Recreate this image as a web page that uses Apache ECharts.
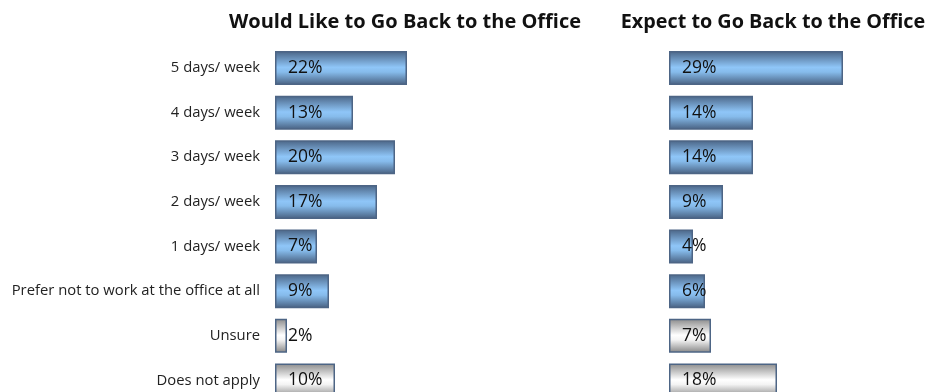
<!DOCTYPE html>
<html>
<head>
<meta charset="utf-8">
<script src="https://cdn.jsdelivr.net/npm/echarts@6/dist/echarts.min.js"></script>
<style>
  html, body { margin: 0; padding: 0; background: #ffffff; }
  #chart { width: 933px; height: 392px; }
</style>
</head>
<body>
<div id="chart"></div>
<script>
const categories = [
  '5 days/ week',
  '4 days/ week',
  '3 days/ week',
  '2 days/ week',
  '1 days/ week',
  'Prefer not to work at the office at all',
  'Unsure',
  'Does not apply'
];
const wouldLikeValues = [22, 13, 20, 17, 7, 9, 2, 10];
const expectValues = [29, 14, 14, 9, 4, 6, 7, 18];
const greyCategories = ['Unsure', 'Does not apply'];
const titles = ['Would Like to Go Back to the Office', 'Expect to Go Back to the Office'];

const FONT = '"Open Sans", "Noto Sans", sans-serif';

function blueGrad() {
  return new echarts.graphic.LinearGradient(0, 0, 0, 1, [
    { offset: 0, color: '#4a6485' },
    { offset: 0.48, color: '#8fc6f8' },
    { offset: 0.62, color: '#86bbeb' },
    { offset: 1, color: '#475f7f' }
  ]);
}
function greyGrad() {
  return new echarts.graphic.LinearGradient(0, 0, 0, 1, [
    { offset: 0, color: '#8a8a8a' },
    { offset: 0.48, color: '#ffffff' },
    { offset: 0.62, color: '#f4f4f4' },
    { offset: 1, color: '#858585' }
  ]);
}

function buildData(values) {
  return values.map((v, i) => ({
    value: v,
    itemStyle: {
      color: greyCategories.includes(categories[i]) ? greyGrad() : blueGrad(),
      borderColor: '#4d6585',
      borderWidth: 1.5
    }
  }));
}

const chart = echarts.init(document.getElementById('chart'), null, { renderer: 'canvas' });

const gridTop = 45.7;
const gridHeight = 357;

const option = {
  animation: false,
  backgroundColor: '#ffffff',
  title: [
    { text: titles[0], left: 400, top: 7, textAlign: 'center',
      textStyle: { fontFamily: FONT, fontWeight: 'bold', fontSize: 20, color: '#111' } },
    { text: titles[1], left: 768, top: 7, textAlign: 'center',
      textStyle: { fontFamily: FONT, fontWeight: 'bold', fontSize: 19.8, color: '#111' } }
  ],
  grid: [
    { left: 275, width: 240, top: gridTop, height: gridHeight, containLabel: false, outerBoundsMode: 'none' },
    { left: 669, width: 240, top: gridTop, height: gridHeight, containLabel: false, outerBoundsMode: 'none' }
  ],
  xAxis: [
    { type: 'value', gridIndex: 0, min: 0, max: 40, show: false },
    { type: 'value', gridIndex: 1, min: 0, max: 40, show: false }
  ],
  yAxis: [
    { type: 'category', gridIndex: 0, data: categories, inverse: true,
      axisLine: { show: false }, axisTick: { show: false }, splitLine: { show: false },
      axisLabel: { margin: 15, fontFamily: FONT, fontSize: 14.8, color: '#222', align: 'right' } },
    { type: 'category', gridIndex: 1, data: categories, inverse: true,
      axisLine: { show: false }, axisTick: { show: false }, splitLine: { show: false },
      axisLabel: { show: false } }
  ],
  series: [
    { type: 'bar', xAxisIndex: 0, yAxisIndex: 0, barWidth: 34,
      data: buildData(wouldLikeValues),
      label: { show: true, position: 'insideLeft', distance: 13, formatter: '{c}%',
        fontFamily: FONT, fontSize: 17.5, color: '#111' } },
    { type: 'bar', xAxisIndex: 1, yAxisIndex: 1, barWidth: 34,
      data: buildData(expectValues),
      label: { show: true, position: 'insideLeft', distance: 13, formatter: '{c}%',
        fontFamily: FONT, fontSize: 17.5, color: '#111' } }
  ]
};

chart.setOption(option);
</script>
</body>
</html>
